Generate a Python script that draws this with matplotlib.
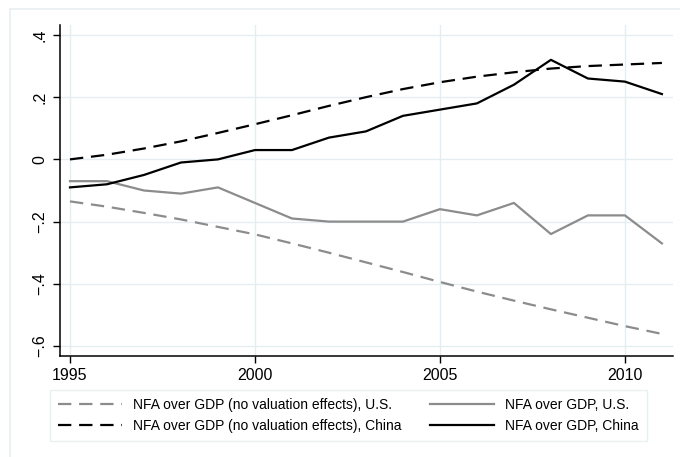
import numpy as np
import matplotlib.pyplot as plt
from matplotlib.patches import Rectangle

plt.rcParams['font.family'] = ['Liberation Sans', 'DejaVu Sans']

years = np.arange(1995, 2012)

# NFA over GDP (no valuation effects), U.S.
us_noval = [-0.135, -0.152, -0.172, -0.193, -0.217, -0.241, -0.270, -0.300, -0.331,
            -0.362, -0.394, -0.425, -0.454, -0.482, -0.509, -0.536, -0.561]
# NFA over GDP, U.S.
us_nfa = [-0.07, -0.07, -0.10, -0.11, -0.09, -0.14, -0.19, -0.20, -0.20,
          -0.20, -0.16, -0.18, -0.14, -0.24, -0.18, -0.18, -0.27]
# NFA over GDP (no valuation effects), China
cn_noval = [0.0, 0.015, 0.035, 0.058, 0.085, 0.113, 0.142, 0.172, 0.200,
            0.226, 0.248, 0.266, 0.280, 0.292, 0.300, 0.305, 0.310]
# NFA over GDP, China
cn_nfa = [-0.09, -0.08, -0.05, -0.01, 0.0, 0.03, 0.03, 0.07, 0.09,
          0.14, 0.16, 0.18, 0.24, 0.32, 0.26, 0.25, 0.21]

labels = ['NFA over GDP (no valuation effects), U.S.',
          'NFA over GDP, U.S.',
          'NFA over GDP (no valuation effects), China',
          'NFA over GDP, China']
xticks = [1995, 2000, 2005, 2010]
yticks = [-0.6, -0.4, -0.2, 0, 0.2, 0.4]
yticklabels = ['\u2212.6', '\u2212.4', '\u2212.2', '0', '.2', '.4']

W, H = 680, 457
fig = plt.figure(figsize=(W / 100, H / 100), dpi=100)
fig.patch.set_facecolor('white')

# outer frame (stata style)
fig.patches.append(Rectangle((10 / W, -0.01), 1.0, 1 - 9 / H + 0.01,
                             transform=fig.transFigure, fill=False,
                             edgecolor='#e8eef0', linewidth=1.2))

ax = fig.add_axes([60 / W, (H - 356) / H, (673 - 60) / W, (356 - 25) / H])

grid_c = '#e4eef1'
gray = '#8c8c8c'
l1, = ax.plot(years, us_noval, color=gray, lw=1.6, dashes=(6, 3.5))
l2, = ax.plot(years, us_nfa, color=gray, lw=1.6)
l3, = ax.plot(years, cn_noval, color='black', lw=1.6, dashes=(6, 3.5))
l4, = ax.plot(years, cn_nfa, color='black', lw=1.6)

ax.set_xlim(1994.73, 2011.3)
ax.set_ylim(-0.632, 0.432)
ax.set_xticks(xticks)
ax.set_yticks(yticks)
ax.set_yticklabels(yticklabels, rotation=90, va='center')
ax.tick_params(axis='both', direction='out', length=5, width=1, labelsize=11.5, color='black')
ax.tick_params(axis='y', pad=4)
ax.grid(True, color=grid_c, lw=1)
ax.set_axisbelow(True)
for s in ['top', 'right']:
    ax.spines[s].set_visible(False)
for s in ['left', 'bottom']:
    ax.spines[s].set_linewidth(1.1)

leg = fig.legend([l1, l3, l2, l4], [labels[0], labels[2], labels[1], labels[3]],
                 ncol=2, loc='upper left', bbox_to_anchor=(50 / W, 1 - 390 / H),
                 borderaxespad=0, frameon=True, fancybox=False, fontsize=10,
                 handlelength=4.6, columnspacing=2.0, labelspacing=0.45,
                 borderpad=0.6, edgecolor='#e4eef1')
leg.get_frame().set_linewidth(1)

fig.savefig('out.png', dpi=100)
